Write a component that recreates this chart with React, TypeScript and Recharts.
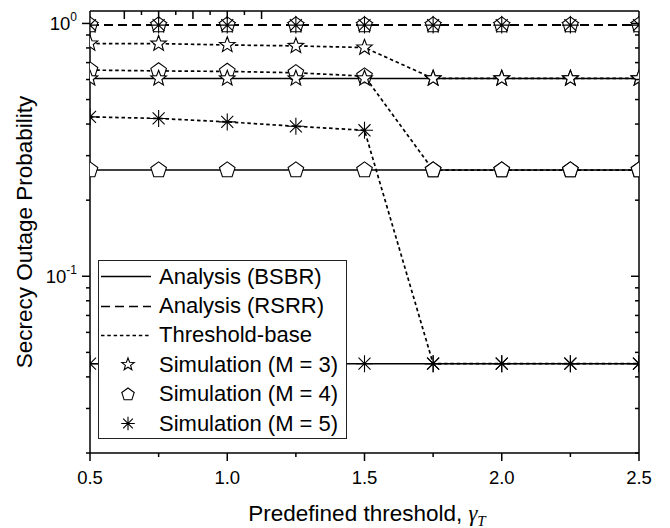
import { LineChart, Line, XAxis, YAxis, Legend } from 'recharts';

const FONT = '"Liberation Sans", Arial, Helvetica, sans-serif';

// threshold values on the x axis
const thresholds = [0.5, 0.75, 1.0, 1.25, 1.5, 1.75, 2.0, 2.25, 2.5];

// Analysis (BSBR), M = 3, 4, 5
const bsbrM3 = [0.606, 0.606, 0.606, 0.606, 0.606, 0.606, 0.606, 0.606, 0.606];
const bsbrM4 = [0.263, 0.263, 0.263, 0.263, 0.263, 0.263, 0.263, 0.263, 0.263];
const bsbrM5 = [0.0451, 0.0451, 0.0451, 0.0451, 0.0451, 0.0451, 0.0451, 0.0451, 0.0451];

// Analysis (RSRR) - the three M curves coincide
const rsrrM3 = [0.985, 0.985, 0.985, 0.985, 0.985, 0.985, 0.985, 0.985, 0.985];
const rsrrM4 = [0.985, 0.985, 0.985, 0.985, 0.985, 0.985, 0.985, 0.985, 0.985];
const rsrrM5 = [0.985, 0.985, 0.985, 0.985, 0.985, 0.985, 0.985, 0.985, 0.985];

// Threshold-base
const thrM3 = [0.833, 0.832, 0.822, 0.815, 0.803, 0.606, 0.606, 0.606, 0.606];
const thrM4 = [0.654, 0.649, 0.646, 0.638, 0.619, 0.263, 0.263, 0.263, 0.263];
const thrM5 = [0.427, 0.421, 0.408, 0.392, 0.378, 0.0451, 0.0451, 0.0451, 0.0451];

const xTicks = [0.5, 0.75, 1.0, 1.25, 1.5, 1.75, 2.0, 2.25, 2.5];
const xMajor = [0.5, 1.0, 1.5, 2.0, 2.5];
const yTicks = [0.02, 0.03, 0.04, 0.05, 0.06, 0.07, 0.08, 0.09, 0.1, 0.2, 0.3, 0.4, 0.5, 0.6, 0.7, 0.8, 0.9, 1];
const yMajor = [0.1, 1];

const data = thresholds.map((x, i) => ({
  x,
  bsbr3: bsbrM3[i], bsbr4: bsbrM4[i], bsbr5: bsbrM5[i],
  rsrr3: rsrrM3[i], rsrr4: rsrrM4[i], rsrr5: rsrrM5[i],
  thr3: thrM3[i], thr4: thrM4[i], thr5: thrM5[i],
}));

const DASH = '9 5';
const DOT = '3.5 2.8';

// plot frame (chart margins + axis sizes)
const PLOT = { left: 90, top: 11, width: 549, height: 442 };

// ---- marker shapes ----
function starPath(cx: number, cy: number, R = 8.2) {
  const r = R * 0.42;
  let d = '';
  for (let k = 0; k < 10; k++) {
    const rad = k % 2 === 0 ? R : r;
    const a = -Math.PI / 2 + (k * Math.PI) / 5;
    d += `${k === 0 ? 'M' : 'L'}${cx + rad * Math.cos(a)},${cy + rad * Math.sin(a)}`;
  }
  return d + 'Z';
}
function pentPath(cx: number, cy: number, R = 8.2) {
  let d = '';
  for (let k = 0; k < 5; k++) {
    const a = -Math.PI / 2 + (k * 2 * Math.PI) / 5;
    d += `${k === 0 ? 'M' : 'L'}${cx + R * Math.cos(a)},${cy + R * Math.sin(a)}`;
  }
  return d + 'Z';
}
function astPath(cx: number, cy: number, R = 8.5) {
  let d = '';
  for (let k = 0; k < 4; k++) {
    const a = (k * Math.PI) / 4;
    d += `M${cx - R * Math.cos(a)},${cy - R * Math.sin(a)}L${cx + R * Math.cos(a)},${cy + R * Math.sin(a)}`;
  }
  return d;
}

const Marker = ({ kind, cx, cy, s = 1 }: { kind: string; cx: number; cy: number; s?: number }) => {
  if (kind === 'star') return <path d={starPath(cx, cy, 8.2 * s)} fill="#fff" stroke="#000" strokeWidth={1.1} />;
  if (kind === 'pent') return <path d={pentPath(cx, cy, 8.2 * s)} fill="#fff" stroke="#000" strokeWidth={1.1} />;
  return <path d={astPath(cx, cy, 8.5 * s)} fill="none" stroke="#000" strokeWidth={1.1} />;
};

// markers are cut at the frame, like the original
const dotOf = (kind: string) => (p: any) => {
  if (p.cx == null || p.cy == null) return <g key={`e${p.index}`} />;
  return (
    <svg key={`${kind}${p.index}`} x={PLOT.left} y={PLOT.top} width={PLOT.width} height={PLOT.height} overflow="hidden">
      <Marker kind={kind} cx={p.cx - PLOT.left} cy={p.cy - PLOT.top} />
    </svg>
  );
};

// ---- axis ticks ----
const LeftTick = ({ x, y, payload }: any) => {
  const major = yMajor.includes(payload.value);
  const exp = payload.value === 1 ? '0' : '-1';
  return (
    <g>
      <line x1={x} x2={x - (major ? 8 : 4)} y1={y} y2={y} stroke="#000" strokeWidth={1.5} />
      {major && (
        <text x={x - 13} y={y + 6.5} textAnchor="end" fontFamily={FONT} fontSize={18.5} fill="#000">
          <tspan>10</tspan>
          <tspan dy={-9} fontSize={12}>{exp}</tspan>
        </text>
      )}
    </g>
  );
};
const RightTick = ({ x, y, payload }: any) => {
  const major = yMajor.includes(payload.value);
  return <line x1={x} x2={x - (major ? 8 : 4)} y1={y} y2={y} stroke="#000" strokeWidth={1.5} />;
};
const BottomTick = ({ x, y, payload }: any) => {
  const major = xMajor.includes(payload.value);
  return (
    <g>
      <line x1={x} x2={x} y1={y} y2={y + (major ? 8 : 4)} stroke="#000" strokeWidth={1.5} />
      {major && (
        <text x={x} y={y + 31} textAnchor="middle" fontFamily={FONT} fontSize={18.5} fill="#000">
          {payload.value.toFixed(1)}
        </text>
      )}
    </g>
  );
};
const TopTick = ({ x, y, payload }: any) => {
  const major = xMajor.includes(payload.value);
  return <line x1={x} x2={x} y1={y} y2={y + (major ? 8 : 4)} stroke="#000" strokeWidth={1.5} />;
};

const XLabel = () => (
  <text x={367} y={521} textAnchor="middle" fontFamily={FONT} fontSize={22.5} fill="#000">
    <tspan>Predefined threshold, </tspan>
    <tspan fontFamily='"Liberation Serif", "Times New Roman", serif' fontStyle="italic">γ</tspan>
    <tspan fontFamily='"Liberation Serif", "Times New Roman", serif' fontStyle="italic" fontSize={15} dy={5}>T</tspan>
  </text>
);
const YLabel = () => (
  <text x={32} y={232} transform="rotate(-90 32 232)" textAnchor="middle" fontFamily={FONT} fontSize={22.5} fill="#000">
    Secrecy Outage Probability
  </text>
);

// ---- legend ----
const legendItems = [
  { label: 'Analysis (BSBR)', dash: '' },
  { label: 'Analysis (RSRR)', dash: DASH },
  { label: 'Threshold-base', dash: DOT },
  { label: 'Simulation (M = 3)', marker: 'star' },
  { label: 'Simulation (M = 4)', marker: 'pent' },
  { label: 'Simulation (M = 5)', marker: 'ast' },
];

const renderLegend = () => (
  <div
    style={{
      width: 249, height: 179, boxSizing: 'border-box', border: '1px solid #222',
      background: '#fff', paddingTop: 1, fontFamily: FONT, fontSize: 22, color: '#000',
    }}
  >
    {legendItems.map((it) => (
      <div key={it.label} style={{ display: 'flex', alignItems: 'center', height: 29.4 }}>
        <svg width={58} height={29} style={{ flex: 'none' }}>
          {it.marker ? (
            <Marker kind={it.marker} cx={29} cy={14.5} s={0.8} />
          ) : (
            <line x1={2} x2={52} y1={14.5} y2={14.5} stroke="#000" strokeWidth={1.5} strokeDasharray={it.dash || undefined} />
          )}
        </svg>
        <span style={{ marginLeft: 2, whiteSpace: 'nowrap' }}>{it.label}</span>
      </div>
    ))}
  </div>
);

export default function App() {
  return (
    <div style={{ position: 'absolute', left: 0, top: 0, width: 670, height: 528, background: '#fff' }}>
      <LineChart width={670} height={528} data={data} margin={{ top: 11, right: 31, bottom: 0, left: 30 }}>
        <XAxis
          dataKey="x" type="number" domain={[0.5, 2.5]} ticks={xTicks} interval={0} allowDataOverflow
          height={75} tickSize={0} tickMargin={0} tickLine={false} tick={<BottomTick />}
          axisLine={{ stroke: '#000', strokeWidth: 1.5 }} label={<XLabel />}
        />
        <XAxis
          xAxisId="top" orientation="top" mirror type="number" domain={[0.5, 2.5]} ticks={xTicks} interval={0}
          tickSize={0} tickMargin={0} tickLine={false} tick={<TopTick />} axisLine={{ stroke: '#000', strokeWidth: 1.5 }}
        />
        <YAxis
          scale="log" type="number" domain={[0.02, 1.12]} ticks={yTicks} interval={0} allowDataOverflow
          width={60} tickSize={0} tickMargin={0} tickLine={false} tick={<LeftTick />}
          axisLine={{ stroke: '#000', strokeWidth: 1.5 }} label={<YLabel />}
        />
        <YAxis
          yAxisId="right" orientation="right" mirror scale="log" type="number" domain={[0.02, 1.12]} ticks={yTicks}
          interval={0} allowDataOverflow tickSize={0} tickMargin={0} tickLine={false} tick={<RightTick />}
          axisLine={{ stroke: '#000', strokeWidth: 1.5 }}
        />
        <Legend
          content={renderLegend} layout="vertical" align="center" verticalAlign="middle"
          wrapperStyle={{ position: 'absolute', left: 98, top: 260, width: 249, height: 179 }}
        />

        {/* curves */}
        <Line dataKey="bsbr3" stroke="#000" strokeWidth={1.5} dot={false} isAnimationActive={false} legendType="none" />
        <Line dataKey="bsbr4" stroke="#000" strokeWidth={1.5} dot={false} isAnimationActive={false} legendType="none" />
        <Line dataKey="bsbr5" stroke="#000" strokeWidth={1.5} dot={false} isAnimationActive={false} legendType="none" />
        <Line dataKey="rsrr3" stroke="#000" strokeWidth={2} strokeDasharray={DASH} dot={false} isAnimationActive={false} legendType="none" />
        <Line dataKey="thr3" stroke="#000" strokeWidth={1.7} strokeDasharray={DOT} dot={false} isAnimationActive={false} legendType="none" />
        <Line dataKey="thr4" stroke="#000" strokeWidth={1.7} strokeDasharray={DOT} dot={false} isAnimationActive={false} legendType="none" />
        <Line dataKey="thr5" stroke="#000" strokeWidth={1.7} strokeDasharray={DOT} dot={false} isAnimationActive={false} legendType="none" />

        {/* simulation markers */}
        <Line dataKey="rsrr3" stroke="none" dot={dotOf('star')} isAnimationActive={false} legendType="none" />
        <Line dataKey="rsrr4" stroke="none" dot={dotOf('pent')} isAnimationActive={false} legendType="none" />
        <Line dataKey="rsrr5" stroke="none" dot={dotOf('ast')} isAnimationActive={false} legendType="none" />
        <Line dataKey="thr3" stroke="none" dot={dotOf('star')} isAnimationActive={false} legendType="none" />
        <Line dataKey="thr4" stroke="none" dot={dotOf('pent')} isAnimationActive={false} legendType="none" />
        <Line dataKey="thr5" stroke="none" dot={dotOf('ast')} isAnimationActive={false} legendType="none" />
        <Line dataKey="bsbr3" stroke="none" dot={dotOf('star')} isAnimationActive={false} legendType="none" />
        <Line dataKey="bsbr4" stroke="none" dot={dotOf('pent')} isAnimationActive={false} legendType="none" />
        <Line dataKey="bsbr5" stroke="none" dot={dotOf('ast')} isAnimationActive={false} legendType="none" />
      </LineChart>
    </div>
  );
}
